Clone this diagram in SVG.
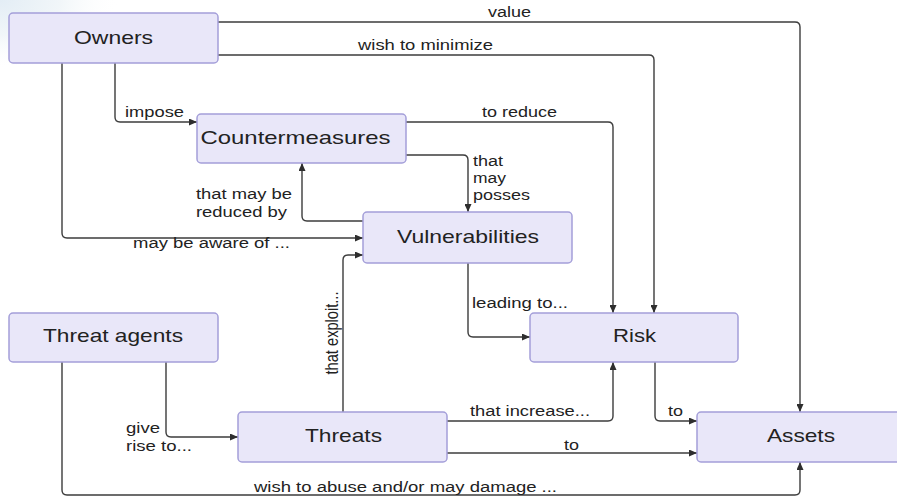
<svg xmlns="http://www.w3.org/2000/svg" width="897" height="497" viewBox="0 0 897 497">
  <defs>
    <radialGradient id="haze" cx="0" cy="0" r="1" gradientUnits="userSpaceOnUse" gradientTransform="translate(0,0) scale(120,70)">
      <stop offset="0" stop-color="#e3edf5"/>
      <stop offset="0.5" stop-color="#f1f6f9"/>
      <stop offset="1" stop-color="#ffffff" stop-opacity="0"/>
    </radialGradient>
    <marker id="arrow" markerWidth="8" markerHeight="7" refX="8" refY="3.5" orient="auto" markerUnits="userSpaceOnUse">
      <path d="M0,0 L8,3.5 L0,7 z" fill="#2e2e2e"/>
    </marker>
    <style>
      .node rect { fill: #e9e7f9; stroke: #a49fd9; stroke-width: 1.5; }
      .node text { font-family: "Liberation Sans", Arial, sans-serif; font-size: 19px; fill: #222222; text-anchor: middle; }
      .edges path { fill: none; stroke: #3c3c3c; stroke-width: 1.4; marker-end: url(#arrow); }
      .lbl { font-family: "Liberation Sans", Arial, sans-serif; font-size: 14px; fill: #222222; }
    </style>
  </defs>

  <rect x="0" y="0" width="897" height="497" fill="#ffffff"/>
  <rect x="0" y="0" width="200" height="120" fill="url(#haze)"/>

  <!-- connectors -->
  <g id="connectors" class="edges">
    <path d="M218,22 H795 Q800,22 800,27 V412"/>
    <path d="M218,55 H649 Q654,55 654,60 V313"/>
    <path d="M115,63 V117 Q115,122 120,122 H197"/>
    <path d="M62,63 V233 Q62,238 67,238 H363"/>
    <path d="M406,122 H608 Q613,122 613,127 V313"/>
    <path d="M406,155 H463 Q468,155 468,160 V212"/>
    <path d="M363,221 H307 Q302,221 302,216 V163"/>
    <path d="M468,263 V332 Q468,337 473,337 H530"/>
    <path d="M343,412 V260 Q343,255 348,255 H363"/>
    <path d="M166,362 V432 Q166,437 171,437 H238"/>
    <path d="M62,362 V490 Q62,495 67,495 H795 Q800,495 800,490 V462"/>
    <path d="M447,421 H608 Q613,421 613,416 V362"/>
    <path d="M447,453 H697"/>
    <path d="M655,362 V416 Q655,421 660,421 H697"/>
  </g>

  <!-- connector labels -->
  <g id="labels">
    <text class="lbl" x="488" y="17" textLength="43" lengthAdjust="spacingAndGlyphs">value</text>
    <text class="lbl" x="358" y="50" textLength="135" lengthAdjust="spacingAndGlyphs">wish to minimize</text>
    <text class="lbl" x="125" y="117" textLength="59" lengthAdjust="spacingAndGlyphs">impose</text>
    <text class="lbl" x="482" y="117" textLength="75" lengthAdjust="spacingAndGlyphs">to reduce</text>
    <text class="lbl" x="473" y="166" textLength="30" lengthAdjust="spacingAndGlyphs">that</text>
    <text class="lbl" x="473" y="183" textLength="33" lengthAdjust="spacingAndGlyphs">may</text>
    <text class="lbl" x="473" y="200" textLength="57" lengthAdjust="spacingAndGlyphs">posses</text>
    <text class="lbl" x="196" y="199" textLength="96" lengthAdjust="spacingAndGlyphs">that may be</text>
    <text class="lbl" x="196" y="217" textLength="91" lengthAdjust="spacingAndGlyphs">reduced by</text>
    <text class="lbl" x="133" y="248" textLength="157" lengthAdjust="spacingAndGlyphs">may be aware of ...</text>
    <text class="lbl" x="472" y="308" textLength="96" lengthAdjust="spacingAndGlyphs">leading to...</text>
    <text class="lbl" transform="translate(338,333) rotate(-90) scale(1,1.3)" x="-41.5" y="0" textLength="83" lengthAdjust="spacingAndGlyphs">that exploit...</text>
    <text class="lbl" x="126" y="433" textLength="34" lengthAdjust="spacingAndGlyphs">give</text>
    <text class="lbl" x="126" y="451" textLength="66" lengthAdjust="spacingAndGlyphs">rise to...</text>
    <text class="lbl" x="470" y="416" textLength="120" lengthAdjust="spacingAndGlyphs">that increase...</text>
    <text class="lbl" x="668" y="416" textLength="15" lengthAdjust="spacingAndGlyphs">to</text>
    <text class="lbl" x="564" y="450" textLength="15" lengthAdjust="spacingAndGlyphs">to</text>
    <text class="lbl" x="254" y="492" textLength="303" lengthAdjust="spacingAndGlyphs">wish to abuse and/or may damage ...</text>
  </g>

  <!-- nodes -->
  <g id="owners" class="node">
    <rect x="9" y="13" width="209" height="50" rx="4"/>
    <text x="113.5" y="44" textLength="79" lengthAdjust="spacingAndGlyphs">Owners</text>
  </g>
  <g id="countermeasures" class="node">
    <rect x="197" y="114" width="209" height="49" rx="4"/>
    <text x="295.5" y="144" textLength="190" lengthAdjust="spacingAndGlyphs">Countermeasures</text>
  </g>
  <g id="vulnerabilities" class="node">
    <rect x="363" y="212" width="209" height="51" rx="4"/>
    <text x="468" y="243" textLength="142" lengthAdjust="spacingAndGlyphs">Vulnerabilities</text>
  </g>
  <g id="threat-agents" class="node">
    <rect x="9" y="313" width="209" height="49" rx="4"/>
    <text x="113" y="342" textLength="140" lengthAdjust="spacingAndGlyphs">Threat agents</text>
  </g>
  <g id="threats" class="node">
    <rect x="238" y="412" width="209" height="50" rx="4"/>
    <text x="343.5" y="442" textLength="77" lengthAdjust="spacingAndGlyphs">Threats</text>
  </g>
  <g id="risk" class="node">
    <rect x="530" y="313" width="208" height="49" rx="4"/>
    <text x="634.5" y="342" textLength="43" lengthAdjust="spacingAndGlyphs">Risk</text>
  </g>
  <g id="assets" class="node">
    <rect x="697" y="412" width="208" height="50" rx="4"/>
    <text x="801" y="442" textLength="68" lengthAdjust="spacingAndGlyphs">Assets</text>
  </g>
</svg>
